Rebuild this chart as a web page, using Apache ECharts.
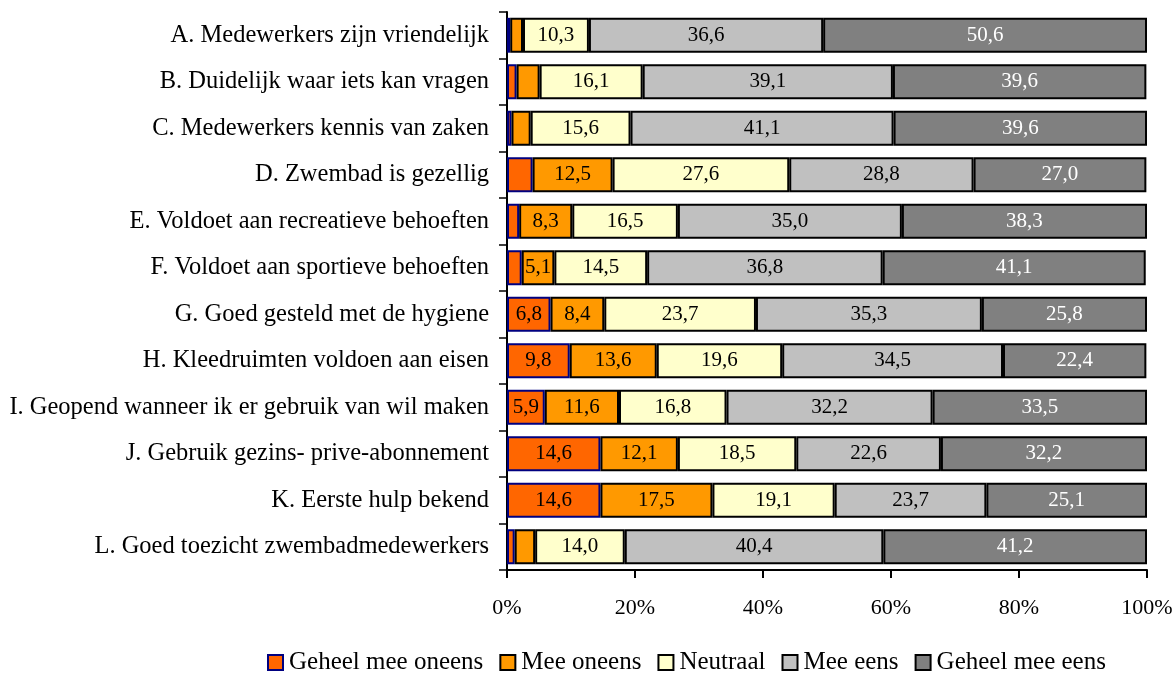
<!DOCTYPE html>
<html>
<head>
<meta charset="utf-8">
<script src="https://cdn.jsdelivr.net/npm/echarts@6/dist/echarts.min.js"></script>
<style>
html,body{margin:0;padding:0;background:#fff;}
#chart{width:1172px;height:673px;}
</style>
</head>
<body>
<div id="chart"></div>
<script>
const categories = [
  'A. Medewerkers zijn vriendelijk',
  'B. Duidelijk waar iets kan vragen',
  'C. Medewerkers kennis van zaken',
  'D. Zwembad is gezellig',
  'E. Voldoet aan recreatieve behoeften',
  'F. Voldoet aan sportieve behoeften',
  'G. Goed gesteld met de hygiene',
  'H. Kleedruimten voldoen aan eisen',
  'I. Geopend wanneer ik er gebruik van wil maken',
  'J. Gebruik gezins- prive-abonnement',
  'K. Eerste hulp bekend',
  'L. Goed toezicht zwembadmedewerkers'
];
const seriesNames = ['Geheel mee oneens', 'Mee oneens', 'Neutraal', 'Mee eens', 'Geheel mee eens'];
const geheelOneens = [0.5, 1.5, 0.7, 4.0, 1.9, 2.3, 6.8, 9.8, 5.9, 14.6, 14.6, 1.2];
const meeOneens    = [2.0, 3.6, 3.0, 12.5, 8.3, 5.1, 8.4, 13.6, 11.6, 12.1, 17.5, 3.2];
const neutraal     = [10.3, 16.1, 15.6, 27.6, 16.5, 14.5, 23.7, 19.6, 16.8, 18.5, 19.1, 14.0];
const meeEens      = [36.6, 39.1, 41.1, 28.8, 35.0, 36.8, 35.3, 34.5, 32.2, 22.6, 23.7, 40.4];
const geheelEens   = [50.6, 39.6, 39.6, 27.0, 38.3, 41.1, 25.8, 22.4, 33.5, 32.2, 25.1, 41.2];
const xTicks = [0, 20, 40, 60, 80, 100];

const FONT = '"Liberation Serif", "DejaVu Serif", serif';
const colors = ['#FF6600', '#FF9900', '#FFFFCC', '#C0C0C0', '#808080'];
const borders = ['#000080', '#000000', '#000000', '#000000', '#000000'];
const labelColors = ['#000', '#000', '#000', '#000', '#fff'];
const values = [geheelOneens, meeOneens, neutraal, meeEens, geheelEens];

const chart = echarts.init(document.getElementById('chart'), null, {renderer: 'canvas'});
chart.setOption({
  animation: false,
  backgroundColor: '#fff',
  textStyle: {fontFamily: FONT},
  grid: {left: 507, right: 25, top: 12, bottom: 103, containLabel: false, outerBoundsMode: 'none'},
  legend: {
    top: 645,
    left: 262,
    icon: 'rect',
    itemWidth: 15,
    itemHeight: 15,
    itemGap: 16,
    textStyle: {fontFamily: FONT, fontSize: 25, color: '#000', padding: [0, 0, 0, 1]},
    data: seriesNames.map((n, i) => ({name: n, itemStyle: {borderColor: borders[i], borderWidth: 2}}))
  },
  xAxis: {
    type: 'value',
    min: 0, max: 100, interval: 20,
    axisLine: {show: true, lineStyle: {color: '#000', width: 2}},
    axisTick: {show: true, length: 8, lineStyle: {color: '#000', width: 2}},
    splitLine: {show: false},
    axisLabel: {formatter: v => xTicks.includes(v) ? v + '%' : '', fontFamily: FONT, fontSize: 22, color: '#000', margin: 27}
  },
  yAxis: {
    type: 'category',
    inverse: true,
    data: categories,
    axisLine: {show: true, lineStyle: {color: '#000', width: 2}},
    axisTick: {show: true, length: 8, alignWithLabel: false, lineStyle: {color: '#000', width: 1.5}},
    axisLabel: {fontFamily: FONT, fontSize: 24.5, color: '#000', margin: 18}
  },
  series: seriesNames.map((name, i) => ({
    name: name,
    type: 'bar',
    stack: 'total',
    barCategoryGap: '25%',
    data: values[i],
    itemStyle: {color: colors[i], borderColor: borders[i], borderWidth: 2},
    label: {
      show: true,
      position: 'inside',
      fontFamily: FONT,
      fontSize: 21,
      color: labelColors[i],
      formatter: p => p.value >= 5 ? p.value.toFixed(1).replace('.', ',') : ''
    }
  }))
});
</script>
</body>
</html>
